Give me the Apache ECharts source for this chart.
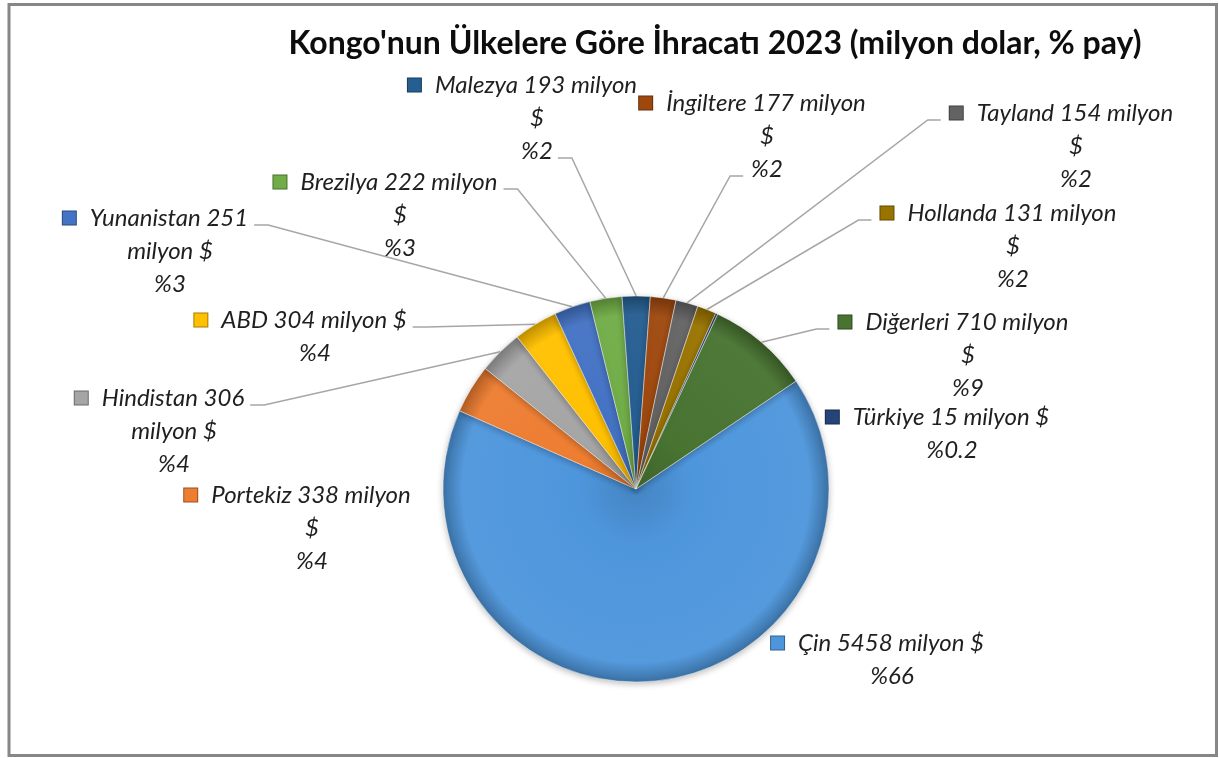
<!DOCTYPE html>
<html>
<head>
<meta charset="utf-8">
<script src="https://cdn.jsdelivr.net/npm/echarts@6/dist/echarts.min.js"></script>
<style>
  html, body { margin: 0; background: #fff; }
  #chart { width: 1219px; height: 758px; }
</style>
</head>
<body>
<div id="chart"></div>
<script>
const countries = ['Çin', 'Portekiz', 'Hindistan', 'ABD', 'Yunanistan', 'Brezilya', 'Malezya', 'İngiltere', 'Tayland', 'Hollanda', 'Türkiye', 'Diğerleri'];
const exportValues = [5458, 338, 306, 304, 251, 222, 193, 177, 154, 131, 15, 710];
const sliceColors = ['#4E96DC', '#ED7D31', '#A5A5A5', '#FFC000', '#4472C4', '#70AD47', '#255E91', '#9E480E', '#636363', '#997300', '#264478', '#487331'];
const titleText = "Kongo'nun Ülkelere Göre İhracatı 2023 (milyon dolar, % pay)";
const unitText = 'milyon $';

// pie geometry + text metrics
const CX = 636, CY = 489, R = 193;
const FONT = 'Lato';
const FS = 24, LINE_H = 33, KEY = 15, KEY_GAP = 14;

// where each label sits (text centre x, first line centre y), how it wraps, where the leader line joins
const labelPlace = {
  'Çin':        { x: 892,  y: 643, wrap: 'none' },
  'Portekiz':   { x: 312,  y: 495, wrap: 'dollar' },
  'Hindistan':  { x: 174,  y: 398, wrap: 'milyon', side: 'r', line: 0 },
  'ABD':        { x: 315,  y: 320, wrap: 'none',   side: 'r', line: 0 },
  'Yunanistan': { x: 170,  y: 218, wrap: 'milyon', side: 'r', line: 0 },
  'Brezilya':   { x: 400,  y: 182, wrap: 'dollar', side: 'r', line: 0 },
  'Malezya':    { x: 537,  y: 85,  wrap: 'dollar', side: 'r', line: 2 },
  'İngiltere':  { x: 767,  y: 103, wrap: 'dollar', side: 'l', line: 2 },
  'Tayland':    { x: 1076, y: 113, wrap: 'dollar', side: 'l', line: 0 },
  'Hollanda':   { x: 1013, y: 213, wrap: 'dollar', side: 'l', line: 0 },
  'Türkiye':    { x: 952,  y: 417, wrap: 'none' },
  'Diğerleri':  { x: 968,  y: 322, wrap: 'dollar', side: 'l', line: 0 }
};

const total = exportValues.reduce((a, b) => a + b, 0);

function pctText(v) {
  const p = v / total * 100;
  return '%' + (p < 1 ? p.toFixed(1) : Math.round(p));
}

function labelLines(i) {
  const name = countries[i], v = exportValues[i];
  const wrap = labelPlace[name].wrap;
  if (wrap === 'dollar') return [name + ' ' + v + ' milyon', '$', pctText(v)];
  if (wrap === 'milyon') return [name + ' ' + v, unitText, pctText(v)];
  return [name + ' ' + v + ' ' + unitText, pctText(v)];
}

const ctx = document.createElement('canvas').getContext('2d');
ctx.font = 'italic ' + FS + 'px ' + FONT;
function textWidth(s) { return ctx.measureText(s).width; }

function shade(hex, f) {
  const n = parseInt(hex.slice(1), 16);
  let r = n >> 16, g = (n >> 8) & 255, b = n & 255;
  const t = f < 0 ? 0 : 255, a = Math.abs(f);
  r = Math.round((t - r) * a + r); g = Math.round((t - g) * a + g); b = Math.round((t - b) * a + b);
  return 'rgb(' + r + ',' + g + ',' + b + ')';
}

const rich = {
  t: { fontFamily: FONT, fontStyle: 'italic', fontSize: FS, lineHeight: LINE_H, color: '#1f1f1f' },
  g: { width: KEY_GAP, height: KEY },
  sp: { width: KEY + KEY_GAP, height: KEY }
};
sliceColors.forEach((c, i) => {
  rich['k' + i] = { width: KEY - 2, height: KEY - 2, backgroundColor: c, borderColor: shade(c, -0.35), borderWidth: 1, verticalAlign: 'middle' };
});

const pieData = countries.map((name, i) => {
  const c = sliceColors[i];
  const item = {
    name: name,
    value: exportValues[i],
    itemStyle: {
      color: new echarts.graphic.RadialGradient(CX, CY, R, [
        { offset: 0, color: shade(c, -0.12) },
        { offset: 0.3, color: c },
        { offset: 0.9, color: shade(c, 0.04) },
        { offset: 1, color: shade(c, -0.25) }
      ], true)
    }
  };
  if (!labelPlace[name].side) item.labelLine = { show: false };
  return item;
});

const chart = echarts.init(document.getElementById('chart'));

chart.setOption({
  animation: false,
  backgroundColor: '#fff',
  title: {
    text: titleText,
    left: 715,
    top: 28,
    textAlign: 'center',
    padding: 0,
    textStyle: { fontFamily: FONT, fontWeight: 'bold', fontSize: 32, color: '#0d0d0d' }
  },
  graphic: [{
    type: 'rect',
    shape: { x: 9, y: 4.5, width: 1207.5, height: 751 },
    style: { fill: 'none', stroke: '#878787', lineWidth: 3 },
    silent: true
  }],
  series: [{
    type: 'pie',
    center: [CX, CY],
    radius: R,
    startAngle: 34,
    clockwise: true,
    avoidLabelOverlap: false,
    data: pieData,
    itemStyle: {
      borderColor: 'rgba(255,255,255,0.45)',
      borderWidth: 1,
      shadowBlur: 6,
      shadowOffsetY: 2,
      shadowColor: 'rgba(0,0,0,0.25)'
    },
    label: {
      show: true,
      position: 'outside',
      align: 'center',
      rich: rich,
      formatter: p => {
        const lines = labelLines(p.dataIndex);
        return lines.map((s, j) => j === 0
          ? '{k' + p.dataIndex + '|}{g|}{t|' + s + '}{sp|}'
          : '{t|' + s + '}').join('\n');
      }
    },
    labelLine: {
      show: true,
      lineStyle: { color: '#A6A6A6', width: 1.5 }
    },
    labelLayout: p => {
      const name = countries[p.dataIndex];
      const pl = labelPlace[name];
      const top = pl.y - LINE_H / 2;
      const res = { x: pl.x, y: top, align: 'center', verticalAlign: 'top' };
      if (pl.side && p.labelLinePoints) {
        const lines = labelLines(p.dataIndex);
        const w = textWidth(lines[pl.line]);
        const ly = top + LINE_H * pl.line + LINE_H / 2 + 7;
        const p0 = p.labelLinePoints[0];
        if (pl.side === 'r') {
          const x2 = pl.x + w / 2 + 5;
          res.labelLinePoints = [p0, [x2 + 14, ly], [x2, ly]];
        } else {
          const x2 = pl.x - w / 2 - (pl.line === 0 ? KEY + KEY_GAP : 0) - 8;
          res.labelLinePoints = [p0, [x2 - 13, ly], [x2, ly]];
        }
      }
      return res;
    }
  }]
});
</script>
</body>
</html>
